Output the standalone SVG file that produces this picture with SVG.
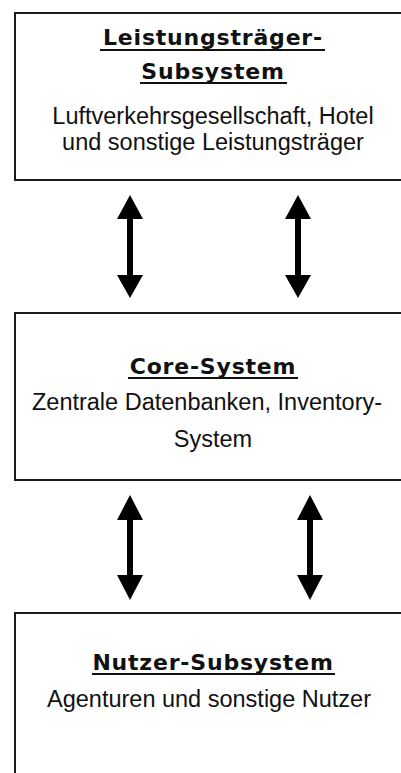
<svg xmlns="http://www.w3.org/2000/svg" width="401" height="773" viewBox="0 0 401 773">
  <style>
    .box { fill: #ffffff; stroke: #1a1a1a; stroke-width: 2; }
    .title { font-family: "DejaVu Sans", Verdana, sans-serif; font-weight: bold; font-size: 22px; letter-spacing: 0.8px; fill: #111; text-anchor: middle; }
    .body { font-family: "Liberation Sans", Arial, sans-serif; font-size: 23.5px; fill: #111; text-anchor: middle; }
    .uline { stroke: #111; stroke-width: 2; }
    .arrow { fill: #000; }
  </style>
  <defs>
    <!-- double-headed vertical arrow, tip at y=0, head 24 long, 26 wide -->
    <path id="dbl-upper" d="M0,0 L13,24 L3,24 L3,80 L13,80 L0,103 L-13,80 L-3,80 L-3,24 L-13,24 Z"/>
    <path id="dbl-lower" d="M0,0 L13,25 L3,25 L3,80 L13,80 L0,105 L-13,80 L-3,80 L-3,25 L-13,25 Z"/>
  </defs>
  <rect width="401" height="773" fill="#ffffff"/>

  <g id="leistungstraeger">
    <rect class="box" x="15" y="13" width="400" height="167"/>
    <text class="title" x="213" y="45">Leistungsträger-</text>
    <line class="uline" x1="100" y1="50" x2="325" y2="50"/>
    <text class="title" x="213" y="79">Subsystem</text>
    <line class="uline" x1="140" y1="83" x2="287" y2="83"/>
    <text class="body" x="213" y="124">Luftverkehrsgesellschaft, Hotel</text>
    <text class="body" x="213" y="150">und sonstige Leistungsträger</text>
  </g>

  <g id="core">
    <rect class="box" x="15" y="313" width="400" height="167"/>
    <text class="title" x="213" y="374">Core-System</text>
    <line class="uline" x1="128" y1="378" x2="298" y2="378"/>
    <text class="body" x="207" y="410">Zentrale Datenbanken, Inventory-</text>
    <text class="body" x="213" y="447">System</text>
  </g>

  <g id="nutzer">
    <rect class="box" x="15" y="613" width="400" height="200"/>
    <text class="title" x="213" y="670">Nutzer-Subsystem</text>
    <line class="uline" x1="92" y1="674" x2="335" y2="674"/>
    <text class="body" x="209" y="707">Agenturen und sonstige Nutzer</text>
  </g>

  <g id="connectors" class="arrow">
    <use href="#dbl-upper" x="130" y="195"/>
    <use href="#dbl-upper" x="298" y="195"/>
    <use href="#dbl-lower" x="130" y="495"/>
    <use href="#dbl-lower" x="310" y="495"/>
  </g>
</svg>
